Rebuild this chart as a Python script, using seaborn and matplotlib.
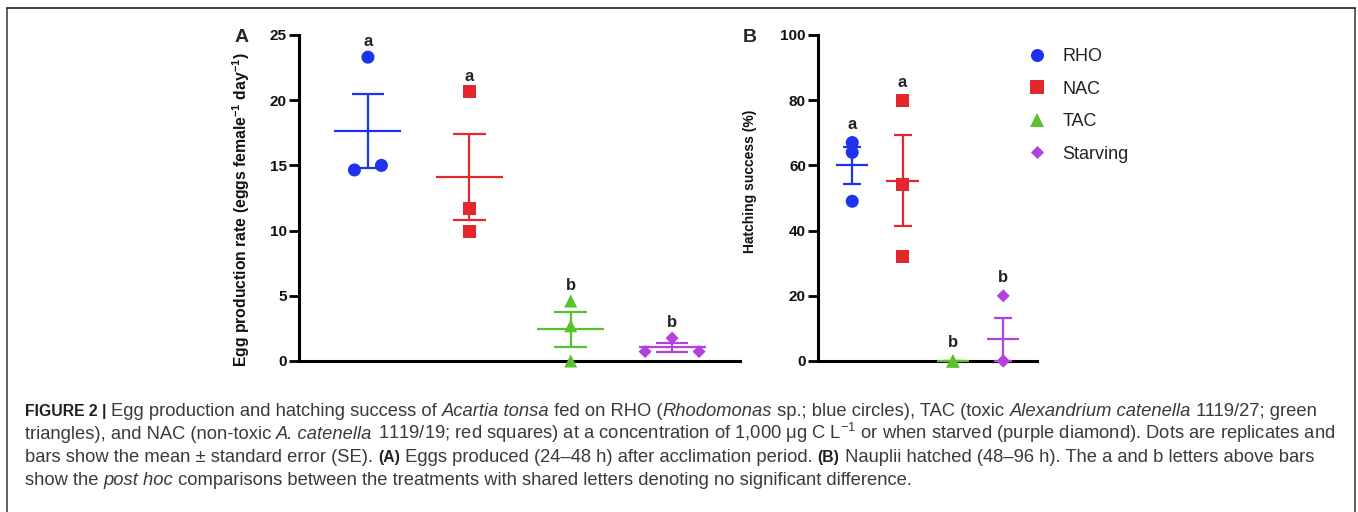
import numpy as np
import pandas as pd
import matplotlib
matplotlib.use("Agg")
import matplotlib.pyplot as plt
import seaborn as sns
from matplotlib.lines import Line2D
from matplotlib import font_manager

# ---------------- data ----------------
groups = ["RHO", "NAC", "TAC", "Starving"]
egg_RHO = [14.65, 23.3, 15.0]
egg_NAC = [20.65, 11.7, 9.95]
egg_TAC = [4.6, 2.7, 0.0]
egg_STV = [0.72, 1.76, 0.72]
hatch_RHO = [67, 64, 49]
hatch_NAC = [80, 54, 32]
hatch_TAC = [0, 0, 0]
hatch_STV = [0, 20, 0]
letters_egg = ["a", "a", "b", "b"]
letters_hatch = ["a", "a", "b", "b"]
egg_ticks = [0, 5, 10, 15, 20, 25]
hatch_ticks = [0, 20, 40, 60, 80, 100]

colors = {"RHO": "#1f33ee", "NAC": "#e2282d", "TAC": "#5ac12c", "Starving": "#b043e0"}
diamond = [(0, 1), (1, 0), (0, -1), (-1, 0)]
markers = {"RHO": "o", "NAC": "s", "TAC": "^", "Starving": diamond}

W, H = 1358, 512
sns.set_style("white")
plt.rcParams["font.family"] = ["Liberation Sans", "DejaVu Sans"]
plt.rcParams["mathtext.fontset"] = "custom"
plt.rcParams["mathtext.rm"] = "Liberation Sans"
plt.rcParams["mathtext.bf"] = "Liberation Sans:bold"
plt.rcParams["mathtext.it"] = "Liberation Sans:italic"

fig = plt.figure(figsize=(W / 100, H / 100), dpi=100)
fig.patch.set_facecolor("white")


def spread(values, bin_h, step):
    vals = np.asarray(values, dtype=float)
    order = np.argsort(vals, kind="stable")
    bins = []
    for idx in order:
        if bins and vals[idx] - vals[bins[-1][0]] < bin_h:
            bins[-1].append(idx)
        else:
            bins.append([idx])
    off = np.zeros(len(vals))
    for b in bins:
        b = sorted(b)
        n = len(b)
        for k, idx in enumerate(b):
            off[idx] = (k - (n - 1) / 2) * step
    return off


def panel(ax, series, ylim, ticks, step, bin_h, mean_hw, cap_hw, letters, loff, legend):
    rows = []
    for i, (g, vals) in enumerate(zip(groups, series)):
        off = spread(vals, bin_h, step)
        for v, o in zip(vals, off):
            rows.append({"group": g, "value": v, "x": i + o})
    df = pd.DataFrame(rows)
    sns.scatterplot(data=df, x="x", y="value", hue="group", style="group",
                    palette=colors, markers=markers, s=88, linewidth=0,
                    ax=ax, legend=legend, clip_on=False, zorder=5)
    stats = df.groupby("group", sort=False)["value"].agg(["mean", "sem", "max"])
    for i, g in enumerate(groups):
        m, se, mx = stats.loc[g, "mean"], stats.loc[g, "sem"], stats.loc[g, "max"]
        c = colors[g]
        kw = dict(color=c, lw=1.6, zorder=4, clip_on=False)
        ax.hlines(m, i - mean_hw, i + mean_hw, **kw)
        ax.vlines(i, m - se, m + se, **kw)
        ax.hlines([m - se, m + se], i - cap_hw, i + cap_hw, **kw)
        ax.text(i, max(mx, m + se) + loff, letters[i], ha="center", va="baseline",
                fontsize=12, fontweight="bold", color="#222222")
    ax.set_xlim(-0.68, 3.67)
    ax.set_ylim(*ylim)
    ax.set_xticks([])
    ax.set_xlabel("")
    ax.set_yticks(ticks, labels=[str(t) for t in ticks], fontsize=11, fontweight="bold")
    ax.tick_params(axis="y", direction="out", length=7.5, width=2, pad=1.2, color="black",
                   labelcolor="#111111", left=True)
    for s in ["top", "right"]:
        ax.spines[s].set_visible(False)
    for s in ["left", "bottom"]:
        ax.spines[s].set_linewidth(2.2)
        ax.spines[s].set_color("black")
        ax.spines[s].set_zorder(3)
    ax.set_facecolor("none")


axA = fig.add_axes([299 / W, (H - 361) / H, (740 - 299) / W, 326 / H])
axB = fig.add_axes([818 / W, (H - 361) / H, (1037 - 818) / W, 326 / H])

panel(axA, [egg_RHO, egg_NAC, egg_TAC, egg_STV], (0, 25), egg_ticks,
      0.266, 1.1, 0.33, 0.16, letters_egg, 0.85, False)
panel(axB, [hatch_RHO, hatch_NAC, hatch_TAC, hatch_STV], (0, 100), hatch_ticks,
      0.0, 1.0, 0.32, 0.18, letters_hatch, 4.2, True)

axA.set_ylabel(r"Egg production rate (eggs female$^{\mathbf{-1}}$ day$^{\mathbf{-1}}$)",
               fontsize=11.3, fontweight="bold", color="#111111")
axA.yaxis.set_label_coords((252 - 299) / 441, (361 - 210) / 326)
axB.set_ylabel("Hatching success (%)", fontsize=10, fontweight="bold", color="#111111")
axB.yaxis.set_label_coords((757 - 818) / 219, (361 - 181) / 326)

sns.move_legend(axB, "upper left", bbox_to_anchor=((1028 - 818) / 219, (361 - 48) / 326),
                frameon=False, title=None, fontsize=13, handlelength=1.0,
                handletextpad=0.9, labelspacing=0.86, borderpad=0, borderaxespad=0)
for t in axB.get_legend().get_texts():
    t.set_color("#222222")

fig.text(235 / W, 1 - 42 / H, "A", fontsize=14, fontweight="bold", ha="left", va="baseline")
fig.text(743 / W, 1 - 42 / H, "B", fontsize=14, fontweight="bold", ha="left", va="baseline")

# border
fig.add_artist(Line2D([7 / W, 7 / W], [0, 1 - 8 / H], color="#444444", lw=1.2))
fig.add_artist(Line2D([1355 / W, 1355 / W], [0, 1 - 8 / H], color="#444444", lw=1.2))
fig.add_artist(Line2D([7 / W, 1355 / W], [1 - 8 / H, 1 - 8 / H], color="#222222", lw=1.2))

# caption
renderer = fig.canvas.get_renderer()
CAP_SIZE = 13.2
try:
    font_manager.findfont(font_manager.FontProperties(family="Liberation Sans Narrow", weight="bold"),
                          fallback_to_default=False)
    BOLD_FAM, BOLD_SIZE = ["Liberation Sans Narrow", "Liberation Sans"], 13.2
except Exception:
    BOLD_FAM, BOLD_SIZE = ["Liberation Sans"], 11.3

N, B, I = ("normal", "normal"), ("bold", "normal"), ("normal", "italic")


def props(wt):
    if wt == "bold":
        return dict(family=BOLD_FAM, fontsize=BOLD_SIZE, color="#231f20")
    return dict(fontsize=CAP_SIZE, color="#3a3a3a")


def seg_width(text, wt, st):
    p = props(wt)
    probe = fig.text(0, 0, text + "|", fontweight=wt, fontstyle=st, **p)
    bar = fig.text(0, 0, "|", fontweight=wt, fontstyle=st, **p)
    w = probe.get_window_extent(renderer).width - bar.get_window_extent(renderer).width
    probe.remove()
    bar.remove()
    return w


def caption_line(y_px, segs):
    x = 25.0
    for text, (wt, st) in segs:
        fig.text(x / W, 1 - y_px / H, text, fontweight=wt, fontstyle=st,
                 ha="left", va="baseline", **props(wt))
        x += seg_width(text, wt, st)


caption_line(416, [("FIGURE 2 | ", B), ("Egg production and hatching success of ", N),
                   ("Acartia tonsa", I), (" fed on RHO (", N), ("Rhodomonas", I),
                   (" sp.; blue circles), TAC (toxic ", N), ("Alexandrium catenella", I),
                   (" 1119/27; green", N)])
caption_line(439, [("triangles), and NAC (non-toxic ", N), ("A. catenella", I),
                   (" 1119/19; red squares) at a concentration of 1,000 \u03bcg C L$^{-1}$ or when starved (purple diamond). Dots are replicates and", N)])
caption_line(462, [("bars show the mean \u00b1 standard error (SE). ", N), ("(A)", B),
                   (" Eggs produced (24\u201348 h) after acclimation period. ", N), ("(B)", B),
                   (" Nauplii hatched (48\u201396 h). The a and b letters above bars", N)])
caption_line(485, [("show the ", N), ("post hoc", I),
                   (" comparisons between the treatments with shared letters denoting no significant difference.", N)])

fig.savefig("out.png", dpi=100)
